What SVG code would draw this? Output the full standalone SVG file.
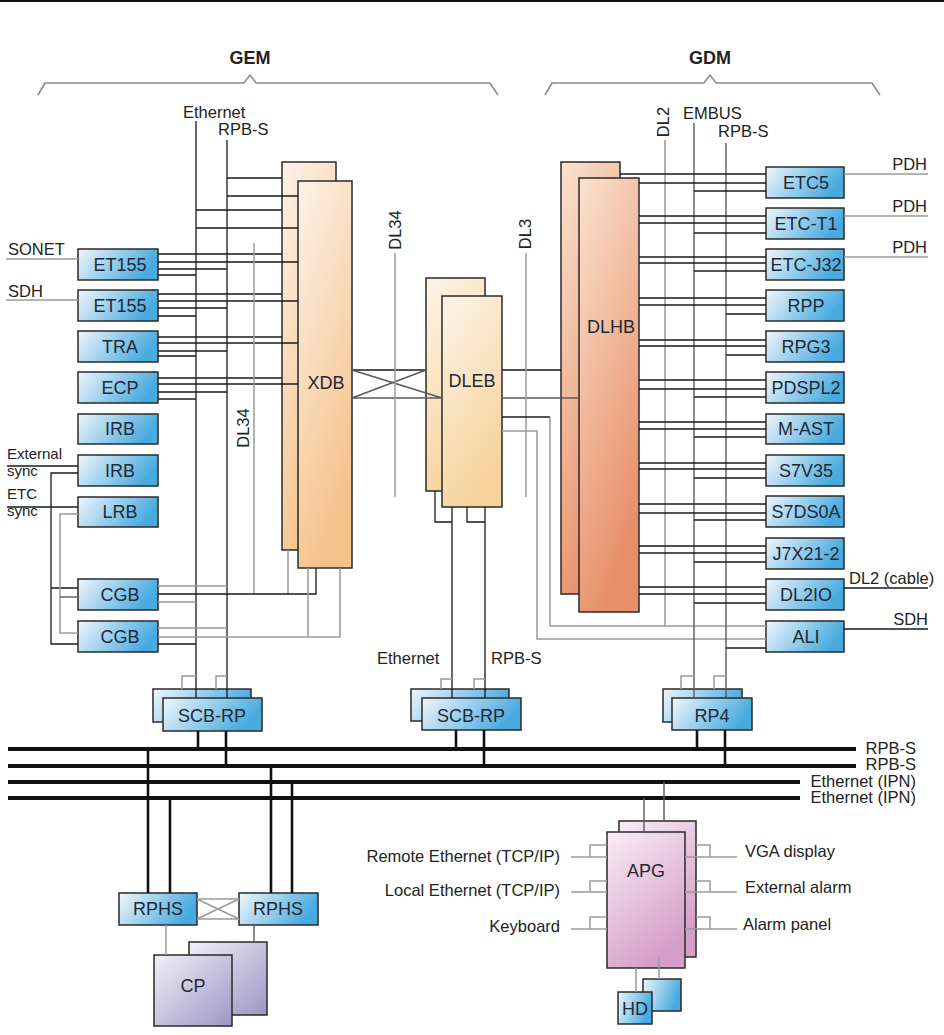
<svg xmlns="http://www.w3.org/2000/svg" width="944" height="1035" viewBox="0 0 944 1035">
<style>
.t{font-family:"Liberation Sans",Arial,sans-serif;font-size:16.5px;fill:#222}
.s{font-family:"Liberation Sans",Arial,sans-serif;font-size:15px;fill:#222}
.b{font-family:"Liberation Sans",Arial,sans-serif;font-size:18px;fill:#1e2a36;text-anchor:middle}
.h{font-family:"Liberation Sans",Arial,sans-serif;font-size:18px;font-weight:bold;fill:#222;text-anchor:middle}
.r{text-anchor:end}
.box{stroke:#2a2a2a;stroke-width:1.5}
.ln{stroke:#1a1a1a;stroke-width:1.3;fill:none}
.gl{stroke:#9a9a9a;stroke-width:1.5;fill:none}
.dg{stroke:#5a5a5a;stroke-width:1.4;fill:none}
.bus{stroke:#111;stroke-width:4;fill:none}
.drop{stroke:#111;stroke-width:2.6;fill:none}
.brace{stroke:#8a8a8a;stroke-width:1.6;fill:none}
</style>
<defs>
<linearGradient id="gBlue" x1="0" y1="0" x2="1" y2="0.3"><stop offset="0" stop-color="#f0f6fc"/><stop offset="1" stop-color="#48aadf"/></linearGradient>
<linearGradient id="gXdb" x1="0" y1="0" x2="0.4" y2="1"><stop offset="0" stop-color="#fdf2e8"/><stop offset="1" stop-color="#f5c38c"/></linearGradient>
<linearGradient id="gDleb" x1="0" y1="0" x2="0.4" y2="1"><stop offset="0" stop-color="#fdf4e8"/><stop offset="1" stop-color="#f7d39c"/></linearGradient>
<linearGradient id="gDlhb" x1="0" y1="0" x2="0.4" y2="1"><stop offset="0" stop-color="#fbe2cf"/><stop offset="1" stop-color="#e88f69"/></linearGradient>
<linearGradient id="gApg" x1="0" y1="0" x2="0.5" y2="1"><stop offset="0" stop-color="#f9edf5"/><stop offset="1" stop-color="#d69fc9"/></linearGradient>
<linearGradient id="gCp" x1="0" y1="0" x2="1" y2="1"><stop offset="0" stop-color="#f1f0f8"/><stop offset="1" stop-color="#9d96c5"/></linearGradient>
</defs>
<rect width="944" height="1035" fill="#fff"/>
<rect x="0" y="0" width="944" height="2" fill="#111"/>

<g id="headers">
<text class="h" x="250" y="64">GEM</text>
<text class="h" x="710" y="64">GDM</text>
<path class="brace" d="M38 95 L45 83 H244 L250 75 L256 83 H490 L498 95"/>
<path class="brace" d="M545 95 L552 83 H704 L710 75 L716 83 H872 L880 95"/>
</g>

<g id="XDB"><rect class="box" x="282" y="162" width="54" height="388" fill="url(#gXdb)"/><rect class="box" x="298" y="181" width="54" height="387" fill="url(#gXdb)"/><text class="b" x="326" y="389">XDB</text></g>
<g id="DLEB"><rect class="box" x="426" y="278" width="59" height="213" fill="url(#gDleb)"/><rect class="box" x="442" y="296" width="60" height="211" fill="url(#gDleb)"/><text class="b" x="472" y="387">DLEB</text></g>
<g id="DLHB"><rect class="box" x="561" y="162" width="59" height="432" fill="url(#gDlhb)"/><rect class="box" x="579" y="178" width="60" height="434" fill="url(#gDlhb)"/><text class="b" x="611" y="333">DLHB</text></g>

<g id="ET155a"><rect class="box" x="78" y="249" width="80" height="31" fill="url(#gBlue)"/><text class="b" x="120" y="271">ET155</text></g>
<g id="ET155b"><rect class="box" x="78" y="290" width="80" height="31" fill="url(#gBlue)"/><text class="b" x="120" y="312">ET155</text></g>
<g id="TRA"><rect class="box" x="78" y="331" width="80" height="31" fill="url(#gBlue)"/><text class="b" x="120" y="353">TRA</text></g>
<g id="ECP"><rect class="box" x="78" y="372" width="80" height="31" fill="url(#gBlue)"/><text class="b" x="120" y="394">ECP</text></g>
<g id="IRBa"><rect class="box" x="78" y="414" width="80" height="30" fill="url(#gBlue)"/><text class="b" x="120" y="435">IRB</text></g>
<g id="IRBb"><rect class="box" x="78" y="455" width="80" height="31" fill="url(#gBlue)"/><text class="b" x="120" y="477">IRB</text></g>
<g id="LRB"><rect class="box" x="78" y="497" width="80" height="30" fill="url(#gBlue)"/><text class="b" x="120" y="518">LRB</text></g>
<g id="CGBa"><rect class="box" x="78" y="579" width="80" height="31" fill="url(#gBlue)"/><text class="b" x="120" y="601">CGB</text></g>
<g id="CGBb"><rect class="box" x="78" y="621" width="80" height="31" fill="url(#gBlue)"/><text class="b" x="120" y="643">CGB</text></g>

<g id="ETC5"><rect class="box" x="766" y="167" width="78" height="31" fill="url(#gBlue)"/><text class="b" x="806" y="189">ETC5</text></g>
<g id="ETCT1"><rect class="box" x="766" y="208" width="78" height="31" fill="url(#gBlue)"/><text class="b" x="806" y="230">ETC-T1</text></g>
<g id="ETCJ32"><rect class="box" x="766" y="249" width="78" height="31" fill="url(#gBlue)"/><text class="b" x="806" y="271">ETC-J32</text></g>
<g id="RPP"><rect class="box" x="766" y="290" width="78" height="31" fill="url(#gBlue)"/><text class="b" x="806" y="312">RPP</text></g>
<g id="RPG3"><rect class="box" x="766" y="331" width="78" height="31" fill="url(#gBlue)"/><text class="b" x="806" y="353">RPG3</text></g>
<g id="PDSPL2"><rect class="box" x="766" y="372" width="78" height="31" fill="url(#gBlue)"/><text class="b" x="806" y="394">PDSPL2</text></g>
<g id="MAST"><rect class="box" x="766" y="414" width="78" height="30" fill="url(#gBlue)"/><text class="b" x="806" y="435">M-AST</text></g>
<g id="S7V35"><rect class="box" x="766" y="455" width="78" height="31" fill="url(#gBlue)"/><text class="b" x="806" y="477">S7V35</text></g>
<g id="S7DS0A"><rect class="box" x="766" y="496" width="78" height="31" fill="url(#gBlue)"/><text class="b" x="806" y="518">S7DS0A</text></g>
<g id="J7X21"><rect class="box" x="766" y="538" width="78" height="31" fill="url(#gBlue)"/><text class="b" x="806" y="560">J7X21-2</text></g>
<g id="DL2IO"><rect class="box" x="766" y="579" width="78" height="31" fill="url(#gBlue)"/><text class="b" x="806" y="601">DL2IO</text></g>
<g id="ALI"><rect class="box" x="766" y="621" width="78" height="31" fill="url(#gBlue)"/><text class="b" x="806" y="643">ALI</text></g>

<g id="SCBRP1"><rect class="box" x="153" y="689" width="98" height="33" fill="url(#gBlue)"/><rect class="box" x="163" y="698" width="99" height="33" fill="url(#gBlue)"/><text class="b" x="212" y="722">SCB-RP</text></g>
<g id="SCBRP2"><rect class="box" x="411" y="689" width="98" height="32" fill="url(#gBlue)"/><rect class="box" x="422" y="698" width="99" height="32" fill="url(#gBlue)"/><text class="b" x="471" y="722">SCB-RP</text></g>
<g id="RP4"><rect class="box" x="663" y="689" width="79" height="33" fill="url(#gBlue)"/><rect class="box" x="672" y="698" width="80" height="32" fill="url(#gBlue)"/><text class="b" x="712" y="722">RP4</text></g>

<g id="RPHS1"><rect class="box" x="119" y="893" width="78" height="32" fill="url(#gBlue)"/><text class="b" x="158" y="915">RPHS</text></g>
<g id="RPHS2"><rect class="box" x="239" y="893" width="79" height="32" fill="url(#gBlue)"/><text class="b" x="278" y="915">RPHS</text></g>
<g id="CP"><rect class="box" x="189" y="942" width="78" height="73" fill="url(#gCp)"/><rect class="box" x="154" y="955" width="78" height="71" fill="url(#gCp)"/><text class="b" x="193" y="992">CP</text></g>
<g id="APG"><rect class="box" x="619" y="821" width="77" height="136" fill="url(#gApg)"/><rect class="box" x="607" y="832" width="78" height="136" fill="url(#gApg)"/><text class="b" x="646" y="877">APG</text></g>
<g id="HD"><rect class="box" x="643" y="979" width="38" height="32" fill="url(#gBlue)"/><rect class="box" x="618" y="992" width="34" height="32" fill="url(#gBlue)"/><text class="b" x="635" y="1015">HD</text></g>

<g id="connectors">
<path class="ln" d="M196 121V698M227 140V698"/>
<path class="ln" d="M227 178H282M227 196H298M196 210H282M196 228H298"/>
<path class="ln" d="M158 254H282M158 262H298M158 269H227M158 275H196"/>
<path class="ln" d="M158 294H282M158 301H298M158 308H227M158 316H196"/>
<path class="ln" d="M158 337H282M158 343H298M158 351H227M158 356H196"/>
<path class="ln" d="M158 378H282M158 384H298M158 392H227M158 399H196"/>
<path class="gl" d="M254 243V594M288 550V594"/>
<path class="ln" d="M158 594H316V568M158 644H196"/>
<path class="gl" d="M158 586H227M158 602H196M158 628H227M158 637H340V568M308 568V637"/>
<path class="ln" d="M7 466H78M78 473H51V644H78M51 588H78M7 507H78"/>
<path class="gl" d="M78 514H60V633H78"/>
<path class="dg" d="M60 597H78"/>
<path class="gl" d="M6 259H78M6 300H78" stroke-width="2"/>
<path class="ln" d="M352 370H426"/>
<path class="dg" d="M352 398H442M352 370L442 398M352 398L426 370"/>
<path class="ln" d="M502 370H561"/>
<path class="dg" d="M502 398H579"/>
<path class="gl" d="M395 253V497M526 253V497"/>
<path class="ln" d="M502 417H550"/>
<path class="gl" d="M550 417V626H766M502 431H537V639H766"/>
<path class="ln" d="M435 491V522H452M452 507V698M467 507V522H485M485 507V698"/>
<path class="gl" d="M441 689V679H452M474 689V679H485"/>
<path class="gl" d="M182 689V676H196M216 689V676H227"/>
<path class="gl" d="M665 140V626"/>
<path class="dg" d="M694 123V698M726 143V698"/>
<path class="gl" d="M681 689V676H694M714 689V676H726"/>
<path class="ln" d="M620 174H766M639 183H766M694 191H766"/>
<path class="ln" d="M639 216H766M639 223H766M694 233H766"/>
<path class="ln" d="M639 257H766M639 263H766M694 271H766"/>
<path class="ln" d="M639 298H766M639 305H766M726 314H766"/>
<path class="ln" d="M639 340H766M639 346H766M726 355H766"/>
<path class="ln" d="M639 380H766M639 389H766M694 397H766"/>
<path class="ln" d="M639 422H766M639 429H766M694 437H766"/>
<path class="ln" d="M639 463H766M639 469H766M694 478H766"/>
<path class="ln" d="M639 504H766M639 513H766M694 520H766"/>
<path class="ln" d="M639 546H766M639 553H766M694 562H766"/>
<path class="ln" d="M639 587H766M639 594H766M694 603H766"/>
<path class="ln" d="M726 648H766"/>
<path class="gl" d="M844 174H928M844 216H928M844 257H928" stroke-width="2"/>
<path class="ln" d="M844 588H928M844 629H928"/>
<path class="drop" d="M198 731V749M226 731V766M456 730V749M484 730V766M697 730V749M725 730V766"/>
<path class="bus" d="M8 749H856M8 766H856M8 782H800M8 798H800"/>
<path class="drop" d="M148 749V893M170 798V893M271 766V893M292 782V893"/>
<path class="gl" d="M197 899H239M197 919H239M197 899L239 919M197 919L239 899"/>
<path class="gl" d="M166 925V955"/>
<path class="dg" d="M254 925V942"/>
<path class="dg" d="M644 798V832M664 782V821"/>
<path class="gl" d="M636 968V992M659 957V979"/>
<path class="gl" d="M571 857H607M590 857V845H607M571 892H607M590 892V881H607M571 929H607M590 929V917H607"/>
<path class="gl" d="M685 857H737M696 845H710V857M685 892H737M696 881H710V892M685 929H737M696 917H710V929"/>
</g>

<g id="labels">
<text class="t" x="183" y="118">Ethernet</text>
<text class="t" x="218" y="135">RPB-S</text>
<text class="t" x="8" y="255">SONET</text>
<text class="t" x="8" y="297">SDH</text>
<text class="s" x="7" y="459">External</text>
<text class="s" x="7" y="476">sync</text>
<text class="s" x="7" y="499">ETC</text>
<text class="s" x="7" y="516">sync</text>
<text class="t" transform="rotate(-90 243 428)" x="243" y="434" text-anchor="middle">DL34</text>
<text class="t" transform="rotate(-90 395 230)" x="395" y="236" text-anchor="middle">DL34</text>
<text class="t" transform="rotate(-90 525 234)" x="525" y="240" text-anchor="middle">DL3</text>
<text class="t" transform="rotate(-90 663 122)" x="663" y="128" text-anchor="middle">DL2</text>
<text class="t" x="683" y="119">EMBUS</text>
<text class="t" x="718" y="137">RPB-S</text>
<text class="t r" x="927" y="170">PDH</text>
<text class="t r" x="927" y="212">PDH</text>
<text class="t r" x="927" y="253">PDH</text>
<text class="t" x="849" y="584">DL2 (cable)</text>
<text class="t r" x="928" y="625">SDH</text>
<text class="t" x="377" y="664">Ethernet</text>
<text class="t" x="491" y="664">RPB-S</text>
<text class="t r" x="916" y="754">RPB-S</text>
<text class="t r" x="916" y="770">RPB-S</text>
<text class="t r" x="916" y="787">Ethernet (IPN)</text>
<text class="t r" x="916" y="803">Ethernet (IPN)</text>
<text class="t r" x="560" y="862">Remote Ethernet (TCP/IP)</text>
<text class="t r" x="560" y="896">Local Ethernet (TCP/IP)</text>
<text class="t r" x="560" y="932">Keyboard</text>
<text class="t" x="745" y="857">VGA display</text>
<text class="t" x="745" y="893">External alarm</text>
<text class="t" x="743" y="930">Alarm panel</text>
</g>
</svg>
